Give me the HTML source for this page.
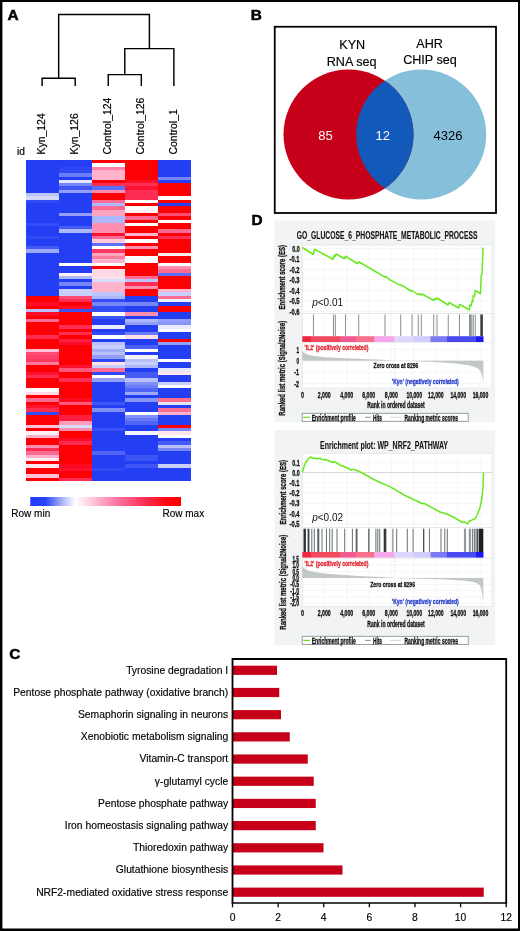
<!DOCTYPE html>
<html lang="en"><head><meta charset="utf-8"><title>Figure</title>
<style>html,body{margin:0;padding:0;background:#fff}body{width:520px;height:931px;overflow:hidden}svg{display:block}text{font-family:"Liberation Sans",Arial,Helvetica,sans-serif}</style>
</head><body>
<svg width="520" height="931" viewBox="0 0 520 931">
<rect x="0" y="0" width="520" height="931" fill="#fff"/>
<path d="M0,0 H520 V931 H0 Z M2.4,2 V928.5 H518 V2 Z" fill="#000" fill-rule="evenodd"/>
<text x="7.6" y="20.2" font-size="15.4" font-weight="bold" stroke="#000" stroke-width="0.5" fill="#000">A</text>
<text x="250.7" y="20.2" font-size="15.4" font-weight="bold" stroke="#000" stroke-width="0.5" fill="#000">B</text>
<text x="9.2" y="659.2" font-size="15.4" font-weight="bold" stroke="#000" stroke-width="0.5" fill="#000">C</text>
<text x="251.6" y="224.6" font-size="15.4" font-weight="bold" stroke="#000" stroke-width="0.5" fill="#000">D</text>
<g id="panelA">
<g fill="none" stroke="#000" stroke-width="1.45" transform="translate(0.4,0.4)">
<path d="M41.730000000000004,85.6 V77.8 H74.79 V85.6"/>
<path d="M107.85000000000001,85.6 V74.2 H140.91 V85.6"/>
<path d="M58.260000000000005,77.8 V14.2 H149 V48.2"/>
<path d="M124.38,74.2 V48.2 H173.47 V85.6"/>
</g>
<text transform="translate(45.23,154.5) rotate(-90)" font-size="10.45" fill="#000" stroke="#000" stroke-width="0.2">Kyn_124</text>
<text transform="translate(78.29,154.5) rotate(-90)" font-size="10.45" fill="#000" stroke="#000" stroke-width="0.2">Kyn_126</text>
<text transform="translate(111.35,154.5) rotate(-90)" font-size="10.45" fill="#000" stroke="#000" stroke-width="0.2">Control_124</text>
<text transform="translate(144.41,154.5) rotate(-90)" font-size="10.45" fill="#000" stroke="#000" stroke-width="0.2">Control_126</text>
<text transform="translate(177.47,154.5) rotate(-90)" font-size="10.45" fill="#000" stroke="#000" stroke-width="0.2">Control_1</text>
<text x="17" y="155" font-size="10.2" fill="#000" stroke="#000" stroke-width="0.2">id</text>
<g shape-rendering="crispEdges">
<rect x="25.70" y="160.00" width="33.11" height="33.14" fill="#243ef4"/>
<rect x="25.70" y="193.09" width="33.11" height="3.36" fill="#bdc5fc"/>
<rect x="25.70" y="196.40" width="33.11" height="3.36" fill="#d3d8fd"/>
<rect x="25.70" y="199.71" width="33.11" height="3.36" fill="#324af5"/>
<rect x="25.70" y="203.02" width="33.11" height="19.91" fill="#243ef4"/>
<rect x="25.70" y="222.88" width="33.11" height="3.36" fill="#344cf5"/>
<rect x="25.70" y="226.19" width="33.11" height="9.98" fill="#243ef4"/>
<rect x="25.70" y="236.11" width="33.11" height="3.36" fill="#324af5"/>
<rect x="25.70" y="239.42" width="33.11" height="6.67" fill="#243ef4"/>
<rect x="25.70" y="246.04" width="33.11" height="3.36" fill="#455bf6"/>
<rect x="25.70" y="249.35" width="33.11" height="3.36" fill="#9ca8fa"/>
<rect x="25.70" y="252.66" width="33.11" height="43.07" fill="#243ef4"/>
<rect x="25.70" y="295.68" width="33.11" height="6.67" fill="#fd0004"/>
<rect x="25.70" y="302.30" width="33.11" height="3.36" fill="#fd0e28"/>
<rect x="25.70" y="305.61" width="33.11" height="3.36" fill="#fd0004"/>
<rect x="25.70" y="308.92" width="33.11" height="3.36" fill="#b8c0fb"/>
<rect x="25.70" y="312.23" width="33.11" height="3.36" fill="#fd0e28"/>
<rect x="25.70" y="315.54" width="33.11" height="3.36" fill="#fd0004"/>
<rect x="25.70" y="318.85" width="33.11" height="3.36" fill="#fe6b92"/>
<rect x="25.70" y="322.15" width="33.11" height="13.29" fill="#fd0004"/>
<rect x="25.70" y="335.39" width="33.11" height="3.36" fill="#fe2d54"/>
<rect x="25.70" y="338.70" width="33.11" height="9.98" fill="#fd0004"/>
<rect x="25.70" y="348.63" width="33.11" height="3.36" fill="#ffc1d5"/>
<rect x="25.70" y="351.94" width="33.11" height="3.36" fill="#fe4b74"/>
<rect x="25.70" y="355.25" width="33.11" height="3.36" fill="#fe3f68"/>
<rect x="25.70" y="358.56" width="33.11" height="3.36" fill="#fe3961"/>
<rect x="25.70" y="361.87" width="33.11" height="3.36" fill="#fe799e"/>
<rect x="25.70" y="365.18" width="33.11" height="6.67" fill="#fd0004"/>
<rect x="25.70" y="371.79" width="33.11" height="3.36" fill="#fd1330"/>
<rect x="25.70" y="375.10" width="33.11" height="3.36" fill="#fe2d54"/>
<rect x="25.70" y="378.41" width="33.11" height="9.98" fill="#fd0004"/>
<rect x="25.70" y="388.34" width="33.11" height="3.36" fill="#ffffff"/>
<rect x="25.70" y="391.65" width="33.11" height="3.36" fill="#ffd8e5"/>
<rect x="25.70" y="394.96" width="33.11" height="3.36" fill="#fd0004"/>
<rect x="25.70" y="398.27" width="33.11" height="3.36" fill="#fe6b92"/>
<rect x="25.70" y="401.58" width="33.11" height="3.36" fill="#fd0004"/>
<rect x="25.70" y="404.89" width="33.11" height="3.36" fill="#fd1330"/>
<rect x="25.70" y="408.20" width="33.11" height="3.36" fill="#fe2d54"/>
<rect x="25.70" y="411.51" width="33.11" height="3.36" fill="#344cf5"/>
<rect x="25.70" y="414.81" width="33.11" height="9.98" fill="#fd0004"/>
<rect x="25.70" y="424.74" width="33.11" height="3.36" fill="#ffc1d5"/>
<rect x="25.70" y="428.05" width="33.11" height="3.36" fill="#fd0004"/>
<rect x="25.70" y="431.36" width="33.11" height="3.36" fill="#ffeff5"/>
<rect x="25.70" y="434.67" width="33.11" height="3.36" fill="#feb2cb"/>
<rect x="25.70" y="437.98" width="33.11" height="6.67" fill="#fd0004"/>
<rect x="25.70" y="444.60" width="33.11" height="3.36" fill="#fe8eaf"/>
<rect x="25.70" y="447.91" width="33.11" height="3.36" fill="#fe2d54"/>
<rect x="25.70" y="451.22" width="33.11" height="3.36" fill="#fe6b92"/>
<rect x="25.70" y="454.53" width="33.11" height="3.36" fill="#feb2cb"/>
<rect x="25.70" y="457.84" width="33.11" height="3.36" fill="#ffeff5"/>
<rect x="25.70" y="461.14" width="33.11" height="3.36" fill="#fd0004"/>
<rect x="25.70" y="464.45" width="33.11" height="3.36" fill="#ffe7f0"/>
<rect x="25.70" y="467.76" width="33.11" height="6.67" fill="#fd0004"/>
<rect x="25.70" y="474.38" width="33.11" height="3.36" fill="#ffc1d5"/>
<rect x="25.70" y="477.69" width="33.11" height="3.36" fill="#fd0004"/>
<rect x="58.76" y="160.00" width="33.11" height="6.67" fill="#243ef4"/>
<rect x="58.76" y="166.62" width="33.11" height="3.36" fill="#2f48f5"/>
<rect x="58.76" y="169.93" width="33.11" height="3.36" fill="#324af5"/>
<rect x="58.76" y="173.24" width="33.11" height="3.36" fill="#6b7df8"/>
<rect x="58.76" y="176.55" width="33.11" height="3.36" fill="#243ef4"/>
<rect x="58.76" y="179.86" width="33.11" height="3.36" fill="#e4e7fe"/>
<rect x="58.76" y="183.16" width="33.11" height="3.36" fill="#7686f8"/>
<rect x="58.76" y="186.47" width="33.11" height="3.36" fill="#3f56f5"/>
<rect x="58.76" y="189.78" width="33.11" height="3.36" fill="#929efa"/>
<rect x="58.76" y="193.09" width="33.11" height="19.91" fill="#243ef4"/>
<rect x="58.76" y="212.95" width="33.11" height="3.36" fill="#929efa"/>
<rect x="58.76" y="216.26" width="33.11" height="9.98" fill="#243ef4"/>
<rect x="58.76" y="226.19" width="33.11" height="3.36" fill="#455bf6"/>
<rect x="58.76" y="229.49" width="33.11" height="3.36" fill="#adb7fb"/>
<rect x="58.76" y="232.80" width="33.11" height="29.83" fill="#243ef4"/>
<rect x="58.76" y="262.59" width="33.11" height="3.36" fill="#ffffff"/>
<rect x="58.76" y="265.90" width="33.11" height="6.67" fill="#243ef4"/>
<rect x="58.76" y="272.52" width="33.11" height="3.36" fill="#ffeff5"/>
<rect x="58.76" y="275.82" width="33.11" height="3.36" fill="#adb7fb"/>
<rect x="58.76" y="279.13" width="33.11" height="3.36" fill="#243ef4"/>
<rect x="58.76" y="282.44" width="33.11" height="3.36" fill="#7686f8"/>
<rect x="58.76" y="285.75" width="33.11" height="3.36" fill="#243ef4"/>
<rect x="58.76" y="289.06" width="33.11" height="6.67" fill="#c8cffc"/>
<rect x="58.76" y="295.68" width="33.11" height="3.36" fill="#fe4b74"/>
<rect x="58.76" y="298.99" width="33.11" height="3.36" fill="#fe2d54"/>
<rect x="58.76" y="302.30" width="33.11" height="3.36" fill="#fd0004"/>
<rect x="58.76" y="305.61" width="33.11" height="3.36" fill="#fd0e28"/>
<rect x="58.76" y="308.92" width="33.11" height="3.36" fill="#3a51f5"/>
<rect x="58.76" y="312.23" width="33.11" height="13.29" fill="#fd0004"/>
<rect x="58.76" y="325.46" width="33.11" height="3.36" fill="#fe2d54"/>
<rect x="58.76" y="328.77" width="33.11" height="3.36" fill="#fd0004"/>
<rect x="58.76" y="332.08" width="33.11" height="3.36" fill="#fe2d54"/>
<rect x="58.76" y="335.39" width="33.11" height="3.36" fill="#fd0004"/>
<rect x="58.76" y="338.70" width="33.11" height="3.36" fill="#fd1d3f"/>
<rect x="58.76" y="342.01" width="33.11" height="3.36" fill="#fd0e28"/>
<rect x="58.76" y="345.32" width="33.11" height="19.91" fill="#fd0004"/>
<rect x="58.76" y="365.18" width="33.11" height="3.36" fill="#fd1330"/>
<rect x="58.76" y="368.48" width="33.11" height="3.36" fill="#fe5881"/>
<rect x="58.76" y="371.79" width="33.11" height="6.67" fill="#fd0004"/>
<rect x="58.76" y="378.41" width="33.11" height="3.36" fill="#fe2d54"/>
<rect x="58.76" y="381.72" width="33.11" height="16.60" fill="#fd0004"/>
<rect x="58.76" y="398.27" width="33.11" height="3.36" fill="#fd0a20"/>
<rect x="58.76" y="401.58" width="33.11" height="3.36" fill="#fe5881"/>
<rect x="58.76" y="404.89" width="33.11" height="9.98" fill="#fd0004"/>
<rect x="58.76" y="414.81" width="33.11" height="6.67" fill="#fd1d3f"/>
<rect x="58.76" y="421.43" width="33.11" height="3.36" fill="#fe9cba"/>
<rect x="58.76" y="424.74" width="33.11" height="3.36" fill="#d9ddfd"/>
<rect x="58.76" y="428.05" width="33.11" height="3.36" fill="#fe8eaf"/>
<rect x="58.76" y="431.36" width="33.11" height="6.67" fill="#fd0004"/>
<rect x="58.76" y="437.98" width="33.11" height="3.36" fill="#fd0e28"/>
<rect x="58.76" y="441.29" width="33.11" height="3.36" fill="#fd284d"/>
<rect x="58.76" y="444.60" width="33.11" height="19.91" fill="#fd0004"/>
<rect x="58.76" y="464.45" width="33.11" height="3.36" fill="#fd0a20"/>
<rect x="58.76" y="467.76" width="33.11" height="3.36" fill="#fd1330"/>
<rect x="58.76" y="471.07" width="33.11" height="6.67" fill="#fd0004"/>
<rect x="58.76" y="477.69" width="33.11" height="3.36" fill="#fe2d54"/>
<rect x="91.82" y="160.00" width="33.11" height="3.36" fill="#fd0004"/>
<rect x="91.82" y="163.31" width="33.11" height="3.36" fill="#ffffff"/>
<rect x="91.82" y="166.62" width="33.11" height="3.36" fill="#fe80a4"/>
<rect x="91.82" y="169.93" width="33.11" height="9.98" fill="#feb2cb"/>
<rect x="91.82" y="179.86" width="33.11" height="3.36" fill="#fd0004"/>
<rect x="91.82" y="183.16" width="33.11" height="3.36" fill="#fe2d54"/>
<rect x="91.82" y="186.47" width="33.11" height="3.36" fill="#5b6ef7"/>
<rect x="91.82" y="189.78" width="33.11" height="3.36" fill="#fe8eaf"/>
<rect x="91.82" y="193.09" width="33.11" height="6.67" fill="#fd0004"/>
<rect x="91.82" y="199.71" width="33.11" height="3.36" fill="#fe6b92"/>
<rect x="91.82" y="203.02" width="33.11" height="3.36" fill="#adb7fb"/>
<rect x="91.82" y="206.33" width="33.11" height="3.36" fill="#fe6b92"/>
<rect x="91.82" y="209.64" width="33.11" height="6.67" fill="#fea3c0"/>
<rect x="91.82" y="216.26" width="33.11" height="6.67" fill="#adb7fb"/>
<rect x="91.82" y="222.88" width="33.11" height="9.98" fill="#fe8eaf"/>
<rect x="91.82" y="232.80" width="33.11" height="3.36" fill="#fd1330"/>
<rect x="91.82" y="236.11" width="33.11" height="3.36" fill="#fe6b92"/>
<rect x="91.82" y="239.42" width="33.11" height="3.36" fill="#ffc8db"/>
<rect x="91.82" y="242.73" width="33.11" height="3.36" fill="#5b6ef7"/>
<rect x="91.82" y="246.04" width="33.11" height="3.36" fill="#ffffff"/>
<rect x="91.82" y="249.35" width="33.11" height="3.36" fill="#fe3961"/>
<rect x="91.82" y="252.66" width="33.11" height="3.36" fill="#fea3c0"/>
<rect x="91.82" y="255.97" width="33.11" height="3.36" fill="#fe799e"/>
<rect x="91.82" y="259.28" width="33.11" height="3.36" fill="#feb2cb"/>
<rect x="91.82" y="262.59" width="33.11" height="3.36" fill="#ffffff"/>
<rect x="91.82" y="265.90" width="33.11" height="3.36" fill="#fd0004"/>
<rect x="91.82" y="269.21" width="33.11" height="6.67" fill="#ffd8e5"/>
<rect x="91.82" y="275.82" width="33.11" height="3.36" fill="#ffe0ea"/>
<rect x="91.82" y="279.13" width="33.11" height="3.36" fill="#d9ddfd"/>
<rect x="91.82" y="282.44" width="33.11" height="9.98" fill="#feb2cb"/>
<rect x="91.82" y="292.37" width="33.11" height="3.36" fill="#bdc5fc"/>
<rect x="91.82" y="295.68" width="33.11" height="3.36" fill="#adb7fb"/>
<rect x="91.82" y="298.99" width="33.11" height="3.36" fill="#344cf5"/>
<rect x="91.82" y="302.30" width="33.11" height="3.36" fill="#7686f8"/>
<rect x="91.82" y="305.61" width="33.11" height="6.67" fill="#344cf5"/>
<rect x="91.82" y="312.23" width="33.11" height="3.36" fill="#ffffff"/>
<rect x="91.82" y="315.54" width="33.11" height="3.36" fill="#3f56f5"/>
<rect x="91.82" y="318.85" width="33.11" height="6.67" fill="#243ef4"/>
<rect x="91.82" y="325.46" width="33.11" height="3.36" fill="#e9ecfe"/>
<rect x="91.82" y="328.77" width="33.11" height="3.36" fill="#243ef4"/>
<rect x="91.82" y="332.08" width="33.11" height="3.36" fill="#344cf5"/>
<rect x="91.82" y="335.39" width="33.11" height="3.36" fill="#ffffff"/>
<rect x="91.82" y="338.70" width="33.11" height="3.36" fill="#243ef4"/>
<rect x="91.82" y="342.01" width="33.11" height="3.36" fill="#b8c0fb"/>
<rect x="91.82" y="345.32" width="33.11" height="3.36" fill="#c8cffc"/>
<rect x="91.82" y="348.63" width="33.11" height="3.36" fill="#a2adfa"/>
<rect x="91.82" y="351.94" width="33.11" height="3.36" fill="#b8c0fb"/>
<rect x="91.82" y="355.25" width="33.11" height="3.36" fill="#929efa"/>
<rect x="91.82" y="358.56" width="33.11" height="3.36" fill="#2f48f5"/>
<rect x="91.82" y="361.87" width="33.11" height="3.36" fill="#ffe0ea"/>
<rect x="91.82" y="365.18" width="33.11" height="3.36" fill="#c8cffc"/>
<rect x="91.82" y="368.48" width="33.11" height="3.36" fill="#fe6b92"/>
<rect x="91.82" y="371.79" width="33.11" height="3.36" fill="#2f48f5"/>
<rect x="91.82" y="375.10" width="33.11" height="3.36" fill="#ffffff"/>
<rect x="91.82" y="378.41" width="33.11" height="3.36" fill="#929efa"/>
<rect x="91.82" y="381.72" width="33.11" height="19.91" fill="#243ef4"/>
<rect x="91.82" y="401.58" width="33.11" height="3.36" fill="#3f56f5"/>
<rect x="91.82" y="404.89" width="33.11" height="3.36" fill="#243ef4"/>
<rect x="91.82" y="408.20" width="33.11" height="3.36" fill="#8190f9"/>
<rect x="91.82" y="411.51" width="33.11" height="16.60" fill="#243ef4"/>
<rect x="91.82" y="428.05" width="33.11" height="3.36" fill="#3a51f5"/>
<rect x="91.82" y="431.36" width="33.11" height="19.91" fill="#243ef4"/>
<rect x="91.82" y="451.22" width="33.11" height="3.36" fill="#5065f6"/>
<rect x="91.82" y="454.53" width="33.11" height="13.29" fill="#243ef4"/>
<rect x="91.82" y="467.76" width="33.11" height="3.36" fill="#324af5"/>
<rect x="91.82" y="471.07" width="33.11" height="9.98" fill="#243ef4"/>
<rect x="124.88" y="160.00" width="33.11" height="19.91" fill="#fd0004"/>
<rect x="124.88" y="179.86" width="33.11" height="3.36" fill="#fd0e28"/>
<rect x="124.88" y="183.16" width="33.11" height="3.36" fill="#fe2d54"/>
<rect x="124.88" y="186.47" width="33.11" height="3.36" fill="#fd1330"/>
<rect x="124.88" y="189.78" width="33.11" height="9.98" fill="#fe2d54"/>
<rect x="124.88" y="199.71" width="33.11" height="3.36" fill="#ffffff"/>
<rect x="124.88" y="203.02" width="33.11" height="3.36" fill="#fd0004"/>
<rect x="124.88" y="206.33" width="33.11" height="3.36" fill="#ffffff"/>
<rect x="124.88" y="209.64" width="33.11" height="3.36" fill="#ffeff5"/>
<rect x="124.88" y="212.95" width="33.11" height="3.36" fill="#fd0004"/>
<rect x="124.88" y="216.26" width="33.11" height="3.36" fill="#fe6b92"/>
<rect x="124.88" y="219.57" width="33.11" height="3.36" fill="#fd0004"/>
<rect x="124.88" y="222.88" width="33.11" height="3.36" fill="#ffffff"/>
<rect x="124.88" y="226.19" width="33.11" height="6.67" fill="#fd0004"/>
<rect x="124.88" y="232.80" width="33.11" height="3.36" fill="#feb2cb"/>
<rect x="124.88" y="236.11" width="33.11" height="3.36" fill="#fd0004"/>
<rect x="124.88" y="239.42" width="33.11" height="3.36" fill="#ffffff"/>
<rect x="124.88" y="242.73" width="33.11" height="3.36" fill="#fd0004"/>
<rect x="124.88" y="246.04" width="33.11" height="3.36" fill="#fe8eaf"/>
<rect x="124.88" y="249.35" width="33.11" height="6.67" fill="#fd0004"/>
<rect x="124.88" y="255.97" width="33.11" height="6.67" fill="#ffffff"/>
<rect x="124.88" y="262.59" width="33.11" height="13.29" fill="#fd0004"/>
<rect x="124.88" y="275.82" width="33.11" height="3.36" fill="#fe6b92"/>
<rect x="124.88" y="279.13" width="33.11" height="3.36" fill="#bdc5fc"/>
<rect x="124.88" y="282.44" width="33.11" height="3.36" fill="#fe2d54"/>
<rect x="124.88" y="285.75" width="33.11" height="3.36" fill="#fe8eaf"/>
<rect x="124.88" y="289.06" width="33.11" height="6.67" fill="#fd0004"/>
<rect x="124.88" y="295.68" width="33.11" height="6.67" fill="#243ef4"/>
<rect x="124.88" y="302.30" width="33.11" height="3.36" fill="#7686f8"/>
<rect x="124.88" y="305.61" width="33.11" height="6.67" fill="#243ef4"/>
<rect x="124.88" y="312.23" width="33.11" height="3.36" fill="#fe8eaf"/>
<rect x="124.88" y="315.54" width="33.11" height="3.36" fill="#243ef4"/>
<rect x="124.88" y="318.85" width="33.11" height="3.36" fill="#adb7fb"/>
<rect x="124.88" y="322.15" width="33.11" height="3.36" fill="#929efa"/>
<rect x="124.88" y="325.46" width="33.11" height="6.67" fill="#243ef4"/>
<rect x="124.88" y="332.08" width="33.11" height="3.36" fill="#6b7df8"/>
<rect x="124.88" y="335.39" width="33.11" height="3.36" fill="#ffe0ea"/>
<rect x="124.88" y="338.70" width="33.11" height="6.67" fill="#243ef4"/>
<rect x="124.88" y="345.32" width="33.11" height="3.36" fill="#4a60f6"/>
<rect x="124.88" y="348.63" width="33.11" height="3.36" fill="#ffffff"/>
<rect x="124.88" y="351.94" width="33.11" height="3.36" fill="#243ef4"/>
<rect x="124.88" y="355.25" width="33.11" height="3.36" fill="#f4f5fe"/>
<rect x="124.88" y="358.56" width="33.11" height="3.36" fill="#b8c0fb"/>
<rect x="124.88" y="361.87" width="33.11" height="3.36" fill="#c8cffc"/>
<rect x="124.88" y="365.18" width="33.11" height="3.36" fill="#adb7fb"/>
<rect x="124.88" y="368.48" width="33.11" height="3.36" fill="#243ef4"/>
<rect x="124.88" y="371.79" width="33.11" height="6.67" fill="#455bf6"/>
<rect x="124.88" y="378.41" width="33.11" height="3.36" fill="#b8c0fb"/>
<rect x="124.88" y="381.72" width="33.11" height="3.36" fill="#8190f9"/>
<rect x="124.88" y="385.03" width="33.11" height="3.36" fill="#6b7df8"/>
<rect x="124.88" y="388.34" width="33.11" height="3.36" fill="#5065f6"/>
<rect x="124.88" y="391.65" width="33.11" height="3.36" fill="#9ca8fa"/>
<rect x="124.88" y="394.96" width="33.11" height="3.36" fill="#243ef4"/>
<rect x="124.88" y="398.27" width="33.11" height="3.36" fill="#8795f9"/>
<rect x="124.88" y="401.58" width="33.11" height="9.98" fill="#243ef4"/>
<rect x="124.88" y="411.51" width="33.11" height="3.36" fill="#ffffff"/>
<rect x="124.88" y="414.81" width="33.11" height="3.36" fill="#8190f9"/>
<rect x="124.88" y="418.12" width="33.11" height="3.36" fill="#6678f7"/>
<rect x="124.88" y="421.43" width="33.11" height="3.36" fill="#5065f6"/>
<rect x="124.88" y="424.74" width="33.11" height="6.67" fill="#243ef4"/>
<rect x="124.88" y="431.36" width="33.11" height="3.36" fill="#f4f5fe"/>
<rect x="124.88" y="434.67" width="33.11" height="19.91" fill="#243ef4"/>
<rect x="124.88" y="454.53" width="33.11" height="6.67" fill="#3d54f5"/>
<rect x="124.88" y="461.14" width="33.11" height="3.36" fill="#243ef4"/>
<rect x="124.88" y="464.45" width="33.11" height="3.36" fill="#3d54f5"/>
<rect x="124.88" y="467.76" width="33.11" height="13.29" fill="#243ef4"/>
<rect x="157.94" y="160.00" width="33.11" height="16.60" fill="#243ef4"/>
<rect x="157.94" y="176.55" width="33.11" height="3.36" fill="#7686f8"/>
<rect x="157.94" y="179.86" width="33.11" height="3.36" fill="#243ef4"/>
<rect x="157.94" y="183.16" width="33.11" height="13.29" fill="#fd0004"/>
<rect x="157.94" y="196.40" width="33.11" height="3.36" fill="#ffffff"/>
<rect x="157.94" y="199.71" width="33.11" height="3.36" fill="#fd0004"/>
<rect x="157.94" y="203.02" width="33.11" height="3.36" fill="#243ef4"/>
<rect x="157.94" y="206.33" width="33.11" height="6.67" fill="#fd0004"/>
<rect x="157.94" y="212.95" width="33.11" height="3.36" fill="#fe4b74"/>
<rect x="157.94" y="216.26" width="33.11" height="3.36" fill="#fd0004"/>
<rect x="157.94" y="219.57" width="33.11" height="3.36" fill="#ffffff"/>
<rect x="157.94" y="222.88" width="33.11" height="6.67" fill="#fd0004"/>
<rect x="157.94" y="229.49" width="33.11" height="3.36" fill="#fe6b92"/>
<rect x="157.94" y="232.80" width="33.11" height="3.36" fill="#fd0004"/>
<rect x="157.94" y="236.11" width="33.11" height="3.36" fill="#fe2d54"/>
<rect x="157.94" y="239.42" width="33.11" height="13.29" fill="#fd0004"/>
<rect x="157.94" y="252.66" width="33.11" height="3.36" fill="#ffeff5"/>
<rect x="157.94" y="255.97" width="33.11" height="6.67" fill="#fd0004"/>
<rect x="157.94" y="262.59" width="33.11" height="3.36" fill="#ffffff"/>
<rect x="157.94" y="265.90" width="33.11" height="3.36" fill="#fe8eaf"/>
<rect x="157.94" y="269.21" width="33.11" height="3.36" fill="#fe6b92"/>
<rect x="157.94" y="272.52" width="33.11" height="3.36" fill="#5b6ef7"/>
<rect x="157.94" y="275.82" width="33.11" height="13.29" fill="#fd0004"/>
<rect x="157.94" y="289.06" width="33.11" height="3.36" fill="#feb2cb"/>
<rect x="157.94" y="292.37" width="33.11" height="3.36" fill="#c8cffc"/>
<rect x="157.94" y="295.68" width="33.11" height="3.36" fill="#fe6b92"/>
<rect x="157.94" y="298.99" width="33.11" height="3.36" fill="#eff1fe"/>
<rect x="157.94" y="302.30" width="33.11" height="3.36" fill="#243ef4"/>
<rect x="157.94" y="305.61" width="33.11" height="6.67" fill="#fd0004"/>
<rect x="157.94" y="312.23" width="33.11" height="6.67" fill="#243ef4"/>
<rect x="157.94" y="318.85" width="33.11" height="3.36" fill="#929efa"/>
<rect x="157.94" y="322.15" width="33.11" height="3.36" fill="#8795f9"/>
<rect x="157.94" y="325.46" width="33.11" height="3.36" fill="#e9ecfe"/>
<rect x="157.94" y="328.77" width="33.11" height="3.36" fill="#ffffff"/>
<rect x="157.94" y="332.08" width="33.11" height="6.67" fill="#243ef4"/>
<rect x="157.94" y="338.70" width="33.11" height="3.36" fill="#fd0004"/>
<rect x="157.94" y="342.01" width="33.11" height="3.36" fill="#929efa"/>
<rect x="157.94" y="345.32" width="33.11" height="13.29" fill="#243ef4"/>
<rect x="157.94" y="358.56" width="33.11" height="3.36" fill="#ffffff"/>
<rect x="157.94" y="361.87" width="33.11" height="6.67" fill="#243ef4"/>
<rect x="157.94" y="368.48" width="33.11" height="3.36" fill="#e4e7fe"/>
<rect x="157.94" y="371.79" width="33.11" height="3.36" fill="#ffe7f0"/>
<rect x="157.94" y="375.10" width="33.11" height="6.67" fill="#243ef4"/>
<rect x="157.94" y="381.72" width="33.11" height="3.36" fill="#c8cffc"/>
<rect x="157.94" y="385.03" width="33.11" height="3.36" fill="#ffffff"/>
<rect x="157.94" y="388.34" width="33.11" height="9.98" fill="#243ef4"/>
<rect x="157.94" y="398.27" width="33.11" height="3.36" fill="#fe6b92"/>
<rect x="157.94" y="401.58" width="33.11" height="3.36" fill="#e4e7fe"/>
<rect x="157.94" y="404.89" width="33.11" height="3.36" fill="#243ef4"/>
<rect x="157.94" y="408.20" width="33.11" height="3.36" fill="#fe6b92"/>
<rect x="157.94" y="411.51" width="33.11" height="3.36" fill="#feb2cb"/>
<rect x="157.94" y="414.81" width="33.11" height="9.98" fill="#243ef4"/>
<rect x="157.94" y="424.74" width="33.11" height="3.36" fill="#fd0004"/>
<rect x="157.94" y="428.05" width="33.11" height="3.36" fill="#7686f8"/>
<rect x="157.94" y="431.36" width="33.11" height="3.36" fill="#ffe7f0"/>
<rect x="157.94" y="434.67" width="33.11" height="3.36" fill="#ffffff"/>
<rect x="157.94" y="437.98" width="33.11" height="3.36" fill="#243ef4"/>
<rect x="157.94" y="441.29" width="33.11" height="3.36" fill="#455bf6"/>
<rect x="157.94" y="444.60" width="33.11" height="3.36" fill="#b8c0fb"/>
<rect x="157.94" y="447.91" width="33.11" height="3.36" fill="#7686f8"/>
<rect x="157.94" y="451.22" width="33.11" height="13.29" fill="#243ef4"/>
<rect x="157.94" y="464.45" width="33.11" height="3.36" fill="#c8cffc"/>
<rect x="157.94" y="467.76" width="33.11" height="13.29" fill="#243ef4"/>
</g>
<defs><linearGradient id="cb" x1="0" x2="1" y1="0" y2="0"><stop offset="0" stop-color="#2038ff"/><stop offset="0.10" stop-color="#2a44fc"/><stop offset="0.22" stop-color="#b4bcfc"/><stop offset="0.30" stop-color="#ffffff"/><stop offset="0.37" stop-color="#ffdcea"/><stop offset="0.55" stop-color="#ff80aa"/><stop offset="0.75" stop-color="#ff3058"/><stop offset="0.9" stop-color="#ff0814"/><stop offset="1" stop-color="#ff0000"/></linearGradient></defs>
<rect x="30.3" y="497" width="150.7" height="9" fill="url(#cb)"/>
<text x="11.3" y="516.6" font-size="10" fill="#000" stroke="#000" stroke-width="0.15">Row min</text>
<text x="204.2" y="516.6" text-anchor="end" font-size="10" fill="#000" stroke="#000" stroke-width="0.15">Row max</text>
</g>
<g id="panelB">
<rect x="274.75" y="26.75" width="221.25" height="186.25" fill="#fff" stroke="#000" stroke-width="1.8"/>
<circle cx="421.25" cy="134.5" r="65" fill="#86bfda"/>
<circle cx="348.5" cy="134.5" r="65" fill="#c60018"/>
<clipPath id="cpb"><circle cx="348.5" cy="134.5" r="65"/></clipPath>
<circle cx="421.25" cy="134.5" r="65" fill="#1259b9" clip-path="url(#cpb)"/>
<text x="352.2" y="49.3" font-size="12.6" text-anchor="middle" stroke="#000" stroke-width="0.15">KYN</text>
<text x="351.6" y="65.5" font-size="12.6" text-anchor="middle" stroke="#000" stroke-width="0.15">RNA seq</text>
<text x="429.6" y="48" font-size="12.6" text-anchor="middle" stroke="#000" stroke-width="0.15">AHR</text>
<text x="430" y="64.3" font-size="12.6" text-anchor="middle" stroke="#000" stroke-width="0.15">CHIP seq</text>
<text x="325.6" y="139.8" font-size="13" text-anchor="middle" fill="#fff">85</text>
<text x="382.7" y="139.8" font-size="13" text-anchor="middle" fill="#fff">12</text>
<text x="448" y="139.8" font-size="13" text-anchor="middle" fill="#000">4326</text>
</g>
<g id="panelD">
<rect x="274.4" y="220.5" width="220.8" height="201.5" fill="#f1f3f4"/>
<rect x="302.3" y="245" width="189.7" height="143" fill="#fff"/>
<g stroke="#edf0f1" stroke-width="0.6" fill="none">
<path d="M302.50,245 V388"/>
<path d="M324.72,245 V388"/>
<path d="M346.94,245 V388"/>
<path d="M369.16,245 V388"/>
<path d="M391.38,245 V388"/>
<path d="M413.60,245 V388"/>
<path d="M435.82,245 V388"/>
<path d="M458.04,245 V388"/>
<path d="M480.26,245 V388"/>
<path d="M302.3,248.5 H492.0"/>
<path d="M302.3,259.0 H492.0"/>
<path d="M302.3,269.5 H492.0"/>
<path d="M302.3,280.0 H492.0"/>
<path d="M302.3,290.5 H492.0"/>
<path d="M302.3,301.0 H492.0"/>
<path d="M302.3,311.5 H492.0"/>
<path d="M302.3,349.5 H492.0"/>
<path d="M302.3,360.75 H492.0"/>
<path d="M302.3,372.3 H492.0"/>
<path d="M302.3,383.75 H492.0"/>
<path d="M302.3,313.5 H492.0" stroke="#d4d8da"/>
<path d="M302.3,342.5 H492.0" stroke="#dde0e2"/>
<rect x="302.3" y="245" width="189.7" height="143" stroke="#dfe3e5"/>
</g>
<path d="M394.6,342 V388" stroke="#cfd3d6" stroke-width="0.6" stroke-dasharray="1.5,1.5"/>
<text x="296.80" y="239.00" font-size="10" fill="#111" font-weight="bold" stroke="#111" stroke-width="0.08" textLength="180.70" lengthAdjust="spacingAndGlyphs" >GO_GLUCOSE_6_PHOSPHATE_METABOLIC_PROCESS</text>
<text x="292.20" y="251.50" font-size="8.4" fill="#111" font-weight="bold" stroke="#111" stroke-width="0.3" textLength="7.40" lengthAdjust="spacingAndGlyphs" >0.0</text>
<text x="289.60" y="262.00" font-size="8.4" fill="#111" font-weight="bold" stroke="#111" stroke-width="0.3" textLength="10.00" lengthAdjust="spacingAndGlyphs" >-0.1</text>
<text x="289.60" y="272.50" font-size="8.4" fill="#111" font-weight="bold" stroke="#111" stroke-width="0.3" textLength="10.00" lengthAdjust="spacingAndGlyphs" >-0.2</text>
<text x="289.60" y="283.00" font-size="8.4" fill="#111" font-weight="bold" stroke="#111" stroke-width="0.3" textLength="10.00" lengthAdjust="spacingAndGlyphs" >-0.3</text>
<text x="289.60" y="293.50" font-size="8.4" fill="#111" font-weight="bold" stroke="#111" stroke-width="0.3" textLength="10.00" lengthAdjust="spacingAndGlyphs" >-0.4</text>
<text x="289.60" y="304.00" font-size="8.4" fill="#111" font-weight="bold" stroke="#111" stroke-width="0.3" textLength="10.00" lengthAdjust="spacingAndGlyphs" >-0.5</text>
<text x="289.60" y="314.50" font-size="8.4" fill="#111" font-weight="bold" stroke="#111" stroke-width="0.3" textLength="10.00" lengthAdjust="spacingAndGlyphs" >-0.6</text>
<path d="M302.50,247.50 L313.25,254.50 L314.50,249.25 L333.00,259.25 L334.00,255.50 L335.00,256.50 L336.00,254.00 L344.50,258.75 L345.50,256.25 L357.50,263.75 L358.75,261.75 L385.00,277.20 L385.60,276.40 L390.00,279.80 L400.75,285.60 L401.30,284.90 L411.25,291.25 L412.00,290.50 L418.00,294.50 L418.75,293.75 L421.25,295.00 L422.00,294.00 L433.75,300.50 L434.50,298.50 L436.25,299.50 L437.00,298.00 L448.00,305.00 L449.00,302.50 L458.75,308.00 L459.75,304.50 L469.50,310.00 L470.00,305.00 L471.25,305.75 L471.75,301.25 L472.75,302.00 L473.25,295.50 L474.50,296.50 L475.25,290.50 L480.50,293.50 L481.25,275.50 L482.00,274.50 L482.50,262.50 L483.00,247.50" fill="none" stroke="#6ae81e" stroke-width="1.5" stroke-linejoin="round"/>
<text x="312.2" y="306" font-size="10" fill="#111"><tspan font-style="italic">p</tspan>&lt;0.01</text>
<rect x="312.95" y="314.5" width="0.9" height="21.69999999999999" fill="#7c8488"/>
<rect x="332.95" y="314.5" width="0.9" height="21.69999999999999" fill="#7c8488"/>
<rect x="334.85" y="314.5" width="0.9" height="21.69999999999999" fill="#7c8488"/>
<rect x="345.05" y="314.5" width="0.9" height="21.69999999999999" fill="#7c8488"/>
<rect x="358.30" y="314.5" width="0.9" height="21.69999999999999" fill="#7c8488"/>
<rect x="384.55" y="314.5" width="0.9" height="21.69999999999999" fill="#7c8488"/>
<rect x="400.30" y="314.5" width="0.9" height="21.69999999999999" fill="#7c8488"/>
<rect x="411.55" y="314.5" width="0.9" height="21.69999999999999" fill="#7c8488"/>
<rect x="417.80" y="314.5" width="0.9" height="21.69999999999999" fill="#7c8488"/>
<rect x="420.80" y="314.5" width="0.9" height="21.69999999999999" fill="#7c8488"/>
<rect x="433.30" y="314.5" width="0.9" height="21.69999999999999" fill="#7c8488"/>
<rect x="436.55" y="314.5" width="0.9" height="21.69999999999999" fill="#7c8488"/>
<rect x="447.80" y="314.5" width="0.9" height="21.69999999999999" fill="#7c8488"/>
<rect x="459.05" y="314.5" width="0.9" height="21.69999999999999" fill="#7c8488"/>
<rect x="469.05" y="314.5" width="0.9" height="21.69999999999999" fill="#7c8488"/>
<rect x="470.15" y="314.5" width="0.9" height="21.69999999999999" fill="#7c8488"/>
<rect x="471.35" y="314.5" width="0.9" height="21.69999999999999" fill="#7c8488"/>
<rect x="472.80" y="314.5" width="0.9" height="21.69999999999999" fill="#7c8488"/>
<rect x="474.80" y="314.5" width="0.9" height="21.69999999999999" fill="#7c8488"/>
<rect x="480.30" y="314.5" width="2.6" height="21.69999999999999" fill="#3c4044"/>
<rect x="302.3" y="336.2" width="8.90" height="5.800000000000011" fill="#f0283e"/>
<rect x="311" y="336.2" width="29.20" height="5.800000000000011" fill="#f4485e"/>
<rect x="340" y="336.2" width="16.20" height="5.800000000000011" fill="#f45a92"/>
<rect x="356" y="336.2" width="18.70" height="5.800000000000011" fill="#f8708e"/>
<rect x="374.5" y="336.2" width="20.20" height="5.800000000000011" fill="#f6a6ea"/>
<rect x="394.5" y="336.2" width="19.45" height="5.800000000000011" fill="#dcd8fc"/>
<rect x="413.75" y="336.2" width="16.95" height="5.800000000000011" fill="#d0ccfc"/>
<rect x="430.5" y="336.2" width="16.70" height="5.800000000000011" fill="#7a7af4"/>
<rect x="447" y="336.2" width="29.20" height="5.800000000000011" fill="#4a4af0"/>
<rect x="476" y="336.2" width="7.50" height="5.800000000000011" fill="#1a1af2"/>
<path d="M302.30,360.75 L302.30,350.40 L303.50,352.20 L305.60,353.70 L308.00,354.80 L311.40,355.60 L318.00,356.50 L324.80,357.20 L335.00,357.80 L344.00,358.30 L363.30,359.10 L382.50,359.80 L394.60,360.75 L415.20,361.20 L434.50,362.00 L453.70,363.30 L469.00,365.20 L476.80,367.70 L480.60,370.60 L482.50,377.30 L483.30,384.00 L483.30,360.75 Z" fill="#c2c7c8"/>
<text x="296.40" y="352.50" font-size="8.4" fill="#111" font-weight="bold" stroke="#111" stroke-width="0.3" textLength="2.60" lengthAdjust="spacingAndGlyphs" >1</text>
<text x="296.40" y="363.75" font-size="8.4" fill="#111" font-weight="bold" stroke="#111" stroke-width="0.3" textLength="2.60" lengthAdjust="spacingAndGlyphs" >0</text>
<text x="294.20" y="375.30" font-size="8.4" fill="#111" font-weight="bold" stroke="#111" stroke-width="0.3" textLength="4.80" lengthAdjust="spacingAndGlyphs" >-1</text>
<text x="294.20" y="386.75" font-size="8.4" fill="#111" font-weight="bold" stroke="#111" stroke-width="0.3" textLength="4.80" lengthAdjust="spacingAndGlyphs" >-2</text>
<text x="304.60" y="350.20" font-size="7.8" fill="#e0202c" font-weight="bold" stroke="#e0202c" stroke-width="0.3" textLength="63.80" lengthAdjust="spacingAndGlyphs" >'IL2' (positively correlated)</text>
<text x="373.60" y="368.00" font-size="7.8" fill="#111" font-weight="bold" stroke="#111" stroke-width="0.3" textLength="44.80" lengthAdjust="spacingAndGlyphs" >Zero cross at 8296</text>
<text x="392.00" y="384.00" font-size="7.8" fill="#2038c8" font-weight="bold" stroke="#2038c8" stroke-width="0.3" textLength="66.80" lengthAdjust="spacingAndGlyphs" >'Kyn' (negatively correlated)</text>
<text x="301.00" y="397.60" font-size="8.2" fill="#111" font-weight="bold" stroke="#111" stroke-width="0.3" textLength="3.00" lengthAdjust="spacingAndGlyphs" >0</text>
<text x="317.75" y="397.60" font-size="8.2" fill="#111" font-weight="bold" stroke="#111" stroke-width="0.3" textLength="13.00" lengthAdjust="spacingAndGlyphs" >2,000</text>
<text x="340.25" y="397.60" font-size="8.2" fill="#111" font-weight="bold" stroke="#111" stroke-width="0.3" textLength="13.00" lengthAdjust="spacingAndGlyphs" >4,000</text>
<text x="362.25" y="397.60" font-size="8.2" fill="#111" font-weight="bold" stroke="#111" stroke-width="0.3" textLength="13.00" lengthAdjust="spacingAndGlyphs" >6,000</text>
<text x="384.80" y="397.60" font-size="8.2" fill="#111" font-weight="bold" stroke="#111" stroke-width="0.3" textLength="13.00" lengthAdjust="spacingAndGlyphs" >8,000</text>
<text x="406.45" y="397.60" font-size="8.2" fill="#111" font-weight="bold" stroke="#111" stroke-width="0.3" textLength="15.60" lengthAdjust="spacingAndGlyphs" >10,000</text>
<text x="428.10" y="397.60" font-size="8.2" fill="#111" font-weight="bold" stroke="#111" stroke-width="0.3" textLength="15.60" lengthAdjust="spacingAndGlyphs" >12,000</text>
<text x="450.45" y="397.60" font-size="8.2" fill="#111" font-weight="bold" stroke="#111" stroke-width="0.3" textLength="15.60" lengthAdjust="spacingAndGlyphs" >14,000</text>
<text x="472.70" y="397.60" font-size="8.2" fill="#111" font-weight="bold" stroke="#111" stroke-width="0.3" textLength="15.60" lengthAdjust="spacingAndGlyphs" >16,000</text>
<text x="367.25" y="407.50" font-size="8.2" fill="#111" font-weight="bold" stroke="#111" stroke-width="0.3" textLength="57.50" lengthAdjust="spacingAndGlyphs" >Rank in ordered dataset</text>
<rect x="302.2" y="413.3" width="166" height="8.0" fill="#fff" stroke="#7d8a8c" stroke-width="0.8"/>
<path d="M303.2,417.3 H310" stroke="#6ee023" stroke-width="1.2"/>
<text x="311.80" y="420.60" font-size="8.2" fill="#111" font-weight="bold" stroke="#111" stroke-width="0.3" textLength="44.00" lengthAdjust="spacingAndGlyphs" >Enrichment profile</text>
<path d="M365,417.3 H370.8" stroke="#6a8c90" stroke-width="0.9"/>
<text x="373.00" y="420.60" font-size="8.2" fill="#111" font-weight="bold" stroke="#111" stroke-width="0.3" textLength="9.00" lengthAdjust="spacingAndGlyphs" >Hits</text>
<path d="M390,417.3 H401" stroke="#d0d4d7" stroke-width="0.9"/>
<text x="404.50" y="420.60" font-size="8.2" fill="#111" font-weight="bold" stroke="#111" stroke-width="0.3" textLength="53.50" lengthAdjust="spacingAndGlyphs" >Ranking metric scores</text>
<text transform="translate(284.7,277.3) rotate(-90)" font-size="8.2" font-weight="bold" fill="#111" stroke="#111" stroke-width="0.3" text-anchor="middle" textLength="64.5" lengthAdjust="spacingAndGlyphs">Enrichment score (ES)</text>
<text transform="translate(284.7,368.2) rotate(-90)" font-size="8.2" font-weight="bold" fill="#111" stroke="#111" stroke-width="0.3" text-anchor="middle" textLength="95" lengthAdjust="spacingAndGlyphs">Ranked list metric (Signal2Noise)</text>
<rect x="274.4" y="430" width="220.8" height="215" fill="#f1f3f4"/>
<rect x="302.3" y="453.6" width="189.7" height="152.69999999999993" fill="#fff"/>
<g stroke="#edf0f1" stroke-width="0.6" fill="none">
<path d="M302.50,453.6 V606.3"/>
<path d="M324.72,453.6 V606.3"/>
<path d="M346.94,453.6 V606.3"/>
<path d="M369.16,453.6 V606.3"/>
<path d="M391.38,453.6 V606.3"/>
<path d="M413.60,453.6 V606.3"/>
<path d="M435.82,453.6 V606.3"/>
<path d="M458.04,453.6 V606.3"/>
<path d="M480.26,453.6 V606.3"/>
<path d="M302.3,462.8 H492.0"/>
<path d="M302.3,472.5 H492.0"/>
<path d="M302.3,482.8 H492.0"/>
<path d="M302.3,493.0 H492.0"/>
<path d="M302.3,503.3 H492.0"/>
<path d="M302.3,513.5 H492.0"/>
<path d="M302.3,523.8 H492.0"/>
<path d="M302.3,558.6 H492.0"/>
<path d="M302.3,565 H492.0"/>
<path d="M302.3,571.5 H492.0"/>
<path d="M302.3,578 H492.0"/>
<path d="M302.3,584.4 H492.0"/>
<path d="M302.3,590.8 H492.0"/>
<path d="M302.3,597.2 H492.0"/>
<path d="M302.3,603.4 H492.0"/>
<path d="M302.3,527.5 H492.0" stroke="#d4d8da"/>
<path d="M302.3,558.1 H492.0" stroke="#dde0e2"/>
<rect x="302.3" y="453.6" width="189.7" height="152.69999999999993" stroke="#dfe3e5"/>
</g>
<path d="M302.3,472.5 H492.0" stroke="#cdd1d4" stroke-width="0.8"/>
<path d="M394.6,557.6 V606.3" stroke="#cfd3d6" stroke-width="0.6" stroke-dasharray="1.5,1.5"/>
<text x="320.00" y="448.80" font-size="10" fill="#111" font-weight="bold" stroke="#111" stroke-width="0.08" textLength="128.00" lengthAdjust="spacingAndGlyphs" >Enrichment plot: WP_NRF2_PATHWAY</text>
<text x="292.20" y="465.80" font-size="8.4" fill="#111" font-weight="bold" stroke="#111" stroke-width="0.3" textLength="7.40" lengthAdjust="spacingAndGlyphs" >0.1</text>
<text x="292.20" y="475.50" font-size="8.4" fill="#111" font-weight="bold" stroke="#111" stroke-width="0.3" textLength="7.40" lengthAdjust="spacingAndGlyphs" >0.0</text>
<text x="289.60" y="485.80" font-size="8.4" fill="#111" font-weight="bold" stroke="#111" stroke-width="0.3" textLength="10.00" lengthAdjust="spacingAndGlyphs" >-0.1</text>
<text x="289.60" y="496.00" font-size="8.4" fill="#111" font-weight="bold" stroke="#111" stroke-width="0.3" textLength="10.00" lengthAdjust="spacingAndGlyphs" >-0.2</text>
<text x="289.60" y="506.30" font-size="8.4" fill="#111" font-weight="bold" stroke="#111" stroke-width="0.3" textLength="10.00" lengthAdjust="spacingAndGlyphs" >-0.3</text>
<text x="289.60" y="516.50" font-size="8.4" fill="#111" font-weight="bold" stroke="#111" stroke-width="0.3" textLength="10.00" lengthAdjust="spacingAndGlyphs" >-0.4</text>
<text x="289.60" y="526.80" font-size="8.4" fill="#111" font-weight="bold" stroke="#111" stroke-width="0.3" textLength="10.00" lengthAdjust="spacingAndGlyphs" >-0.5</text>
<path d="M302.50,472.50 L303.50,468.50 L304.50,465.00 L306.00,462.00 L307.50,460.00 L309.00,458.20 L310.75,457.00 L312.00,457.80 L313.75,458.25 L315.50,458.00 L317.00,459.00 L318.50,458.40 L320.00,458.25 L322.00,459.40 L323.75,460.00 L325.00,459.50 L326.25,459.75 L329.00,461.00 L332.50,462.50 L333.80,461.80 L335.00,462.00 L340.00,465.00 L346.25,467.50 L351.25,470.00 L353.00,469.40 L354.50,469.50 L358.75,471.25 L365.00,474.50 L372.50,478.75 L380.00,482.50 L390.00,486.60 L405.00,495.50 L422.50,503.75 L423.75,503.25 L440.00,512.00 L447.50,514.25 L455.00,518.00 L462.50,522.50 L465.00,522.00 L466.50,523.30 L468.00,523.75 L469.50,520.50 L471.00,520.80 L472.50,519.50 L474.00,519.40 L476.25,517.00 L478.00,512.50 L480.00,507.50 L481.20,502.00 L482.00,497.50 L483.00,487.50 L483.50,472.50" fill="none" stroke="#6ae81e" stroke-width="1.5" stroke-linejoin="round"/>
<text x="312.2" y="520.6" font-size="10" fill="#111"><tspan font-style="italic">p</tspan>&lt;0.02</text>
<rect x="303.50" y="528.7" width="2.4" height="23.299999999999955" fill="#2c3034"/>
<rect x="307.60" y="528.7" width="1.8" height="23.299999999999955" fill="#3a3e42"/>
<rect x="311.30" y="528.7" width="1.0" height="23.299999999999955" fill="#687072"/>
<rect x="313.80" y="528.7" width="1.0" height="23.299999999999955" fill="#687072"/>
<rect x="317.30" y="528.7" width="2.0" height="23.299999999999955" fill="#5a6064"/>
<rect x="321.50" y="528.7" width="1.0" height="23.299999999999955" fill="#687072"/>
<rect x="326.00" y="528.7" width="1.0" height="23.299999999999955" fill="#687072"/>
<rect x="329.20" y="528.7" width="1.0" height="23.299999999999955" fill="#687072"/>
<rect x="331.70" y="528.7" width="1.0" height="23.299999999999955" fill="#687072"/>
<rect x="336.50" y="528.7" width="1.0" height="23.299999999999955" fill="#687072"/>
<rect x="344.20" y="528.7" width="1.0" height="23.299999999999955" fill="#687072"/>
<rect x="351.90" y="528.7" width="1.0" height="23.299999999999955" fill="#687072"/>
<rect x="355.70" y="528.7" width="1.8" height="23.299999999999955" fill="#5a6064"/>
<rect x="368.10" y="528.7" width="1.4" height="23.299999999999955" fill="#60686a"/>
<rect x="375.40" y="528.7" width="1.0" height="23.299999999999955" fill="#687072"/>
<rect x="377.30" y="528.7" width="1.0" height="23.299999999999955" fill="#687072"/>
<rect x="379.20" y="528.7" width="1.0" height="23.299999999999955" fill="#687072"/>
<rect x="383.70" y="528.7" width="2.6" height="23.299999999999955" fill="#34383c"/>
<rect x="392.40" y="528.7" width="1.0" height="23.299999999999955" fill="#687072"/>
<rect x="396.20" y="528.7" width="1.0" height="23.299999999999955" fill="#687072"/>
<rect x="406.80" y="528.7" width="1.0" height="23.299999999999955" fill="#687072"/>
<rect x="412.60" y="528.7" width="1.0" height="23.299999999999955" fill="#687072"/>
<rect x="423.10" y="528.7" width="1.2" height="23.299999999999955" fill="#3a3e42"/>
<rect x="428.90" y="528.7" width="1.0" height="23.299999999999955" fill="#687072"/>
<rect x="440.50" y="528.7" width="1.0" height="23.299999999999955" fill="#687072"/>
<rect x="444.30" y="528.7" width="1.0" height="23.299999999999955" fill="#687072"/>
<rect x="446.80" y="528.7" width="1.0" height="23.299999999999955" fill="#687072"/>
<rect x="463.90" y="528.7" width="2.2" height="23.299999999999955" fill="#909a9c"/>
<rect x="468.80" y="528.7" width="2.0" height="23.299999999999955" fill="#8a9294"/>
<rect x="471.90" y="528.7" width="1.4" height="23.299999999999955" fill="#7a8284"/>
<rect x="474.10" y="528.7" width="1.4" height="23.299999999999955" fill="#6a7072"/>
<rect x="476.40" y="528.7" width="1.8" height="23.299999999999955" fill="#50565a"/>
<rect x="478.70" y="528.7" width="4.6" height="23.299999999999955" fill="#1e2022"/>
<rect x="302.3" y="552" width="8.90" height="5.600000000000023" fill="#f0283e"/>
<rect x="311" y="552" width="29.20" height="5.600000000000023" fill="#f4485e"/>
<rect x="340" y="552" width="16.20" height="5.600000000000023" fill="#f45a92"/>
<rect x="356" y="552" width="18.70" height="5.600000000000023" fill="#f8708e"/>
<rect x="374.5" y="552" width="20.20" height="5.600000000000023" fill="#f6a6ea"/>
<rect x="394.5" y="552" width="19.45" height="5.600000000000023" fill="#dcd8fc"/>
<rect x="413.75" y="552" width="16.95" height="5.600000000000023" fill="#d0ccfc"/>
<rect x="430.5" y="552" width="16.70" height="5.600000000000023" fill="#7a7af4"/>
<rect x="447" y="552" width="29.20" height="5.600000000000023" fill="#4a4af0"/>
<rect x="476" y="552" width="7.50" height="5.600000000000023" fill="#1a1af2"/>
<path d="M302.30,578.00 L302.30,565.80 L303.50,567.60 L305.60,569.20 L308.00,570.50 L311.40,571.50 L318.00,572.60 L324.80,573.50 L335.00,574.30 L344.00,575.00 L363.30,576.20 L382.50,576.90 L394.60,578.00 L420.00,578.70 L440.00,579.30 L455.00,580.00 L465.00,580.80 L472.00,581.80 L477.50,583.20 L480.00,585.50 L481.50,590.00 L482.60,596.00 L483.30,602.50 L483.30,578.00 Z" fill="#c2c7c8"/>
<text x="292.40" y="561.60" font-size="8.4" fill="#111" font-weight="bold" stroke="#111" stroke-width="0.3" textLength="6.60" lengthAdjust="spacingAndGlyphs" >1.5</text>
<text x="292.40" y="568.00" font-size="8.4" fill="#111" font-weight="bold" stroke="#111" stroke-width="0.3" textLength="6.60" lengthAdjust="spacingAndGlyphs" >1.0</text>
<text x="292.40" y="574.50" font-size="8.4" fill="#111" font-weight="bold" stroke="#111" stroke-width="0.3" textLength="6.60" lengthAdjust="spacingAndGlyphs" >0.5</text>
<text x="292.40" y="581.00" font-size="8.4" fill="#111" font-weight="bold" stroke="#111" stroke-width="0.3" textLength="6.60" lengthAdjust="spacingAndGlyphs" >0.0</text>
<text x="290.20" y="587.40" font-size="8.4" fill="#111" font-weight="bold" stroke="#111" stroke-width="0.3" textLength="8.80" lengthAdjust="spacingAndGlyphs" >-0.5</text>
<text x="290.20" y="593.80" font-size="8.4" fill="#111" font-weight="bold" stroke="#111" stroke-width="0.3" textLength="8.80" lengthAdjust="spacingAndGlyphs" >-1.0</text>
<text x="290.20" y="600.20" font-size="8.4" fill="#111" font-weight="bold" stroke="#111" stroke-width="0.3" textLength="8.80" lengthAdjust="spacingAndGlyphs" >-1.5</text>
<text x="290.20" y="606.40" font-size="8.4" fill="#111" font-weight="bold" stroke="#111" stroke-width="0.3" textLength="8.80" lengthAdjust="spacingAndGlyphs" >-2.0</text>
<text x="304.60" y="565.80" font-size="7.8" fill="#e0202c" font-weight="bold" stroke="#e0202c" stroke-width="0.3" textLength="63.80" lengthAdjust="spacingAndGlyphs" >'IL2' (positively correlated)</text>
<text x="370.20" y="586.80" font-size="7.8" fill="#111" font-weight="bold" stroke="#111" stroke-width="0.3" textLength="44.80" lengthAdjust="spacingAndGlyphs" >Zero cross at 8296</text>
<text x="392.00" y="603.80" font-size="7.8" fill="#2038c8" font-weight="bold" stroke="#2038c8" stroke-width="0.3" textLength="66.80" lengthAdjust="spacingAndGlyphs" >'Kyn' (negatively correlated)</text>
<text x="301.00" y="616.10" font-size="8.2" fill="#111" font-weight="bold" stroke="#111" stroke-width="0.3" textLength="3.00" lengthAdjust="spacingAndGlyphs" >0</text>
<text x="317.75" y="616.10" font-size="8.2" fill="#111" font-weight="bold" stroke="#111" stroke-width="0.3" textLength="13.00" lengthAdjust="spacingAndGlyphs" >2,000</text>
<text x="340.25" y="616.10" font-size="8.2" fill="#111" font-weight="bold" stroke="#111" stroke-width="0.3" textLength="13.00" lengthAdjust="spacingAndGlyphs" >4,000</text>
<text x="362.25" y="616.10" font-size="8.2" fill="#111" font-weight="bold" stroke="#111" stroke-width="0.3" textLength="13.00" lengthAdjust="spacingAndGlyphs" >6,000</text>
<text x="384.80" y="616.10" font-size="8.2" fill="#111" font-weight="bold" stroke="#111" stroke-width="0.3" textLength="13.00" lengthAdjust="spacingAndGlyphs" >8,000</text>
<text x="406.45" y="616.10" font-size="8.2" fill="#111" font-weight="bold" stroke="#111" stroke-width="0.3" textLength="15.60" lengthAdjust="spacingAndGlyphs" >10,000</text>
<text x="428.10" y="616.10" font-size="8.2" fill="#111" font-weight="bold" stroke="#111" stroke-width="0.3" textLength="15.60" lengthAdjust="spacingAndGlyphs" >12,000</text>
<text x="450.45" y="616.10" font-size="8.2" fill="#111" font-weight="bold" stroke="#111" stroke-width="0.3" textLength="15.60" lengthAdjust="spacingAndGlyphs" >14,000</text>
<text x="472.70" y="616.10" font-size="8.2" fill="#111" font-weight="bold" stroke="#111" stroke-width="0.3" textLength="15.60" lengthAdjust="spacingAndGlyphs" >16,000</text>
<text x="367.25" y="626.80" font-size="8.2" fill="#111" font-weight="bold" stroke="#111" stroke-width="0.3" textLength="57.50" lengthAdjust="spacingAndGlyphs" >Rank in ordered dataset</text>
<rect x="302.2" y="636.3" width="166" height="8.200000000000045" fill="#fff" stroke="#7d8a8c" stroke-width="0.8"/>
<path d="M303.2,640.4 H310" stroke="#6ee023" stroke-width="1.2"/>
<text x="311.80" y="643.70" font-size="8.2" fill="#111" font-weight="bold" stroke="#111" stroke-width="0.3" textLength="44.00" lengthAdjust="spacingAndGlyphs" >Enrichment profile</text>
<path d="M365,640.4 H370.8" stroke="#6a8c90" stroke-width="0.9"/>
<text x="373.00" y="643.70" font-size="8.2" fill="#111" font-weight="bold" stroke="#111" stroke-width="0.3" textLength="9.00" lengthAdjust="spacingAndGlyphs" >Hits</text>
<path d="M390,640.4 H401" stroke="#d0d4d7" stroke-width="0.9"/>
<text x="404.50" y="643.70" font-size="8.2" fill="#111" font-weight="bold" stroke="#111" stroke-width="0.3" textLength="53.50" lengthAdjust="spacingAndGlyphs" >Ranking metric scores</text>
<text transform="translate(285.8,492.3) rotate(-90)" font-size="8.2" font-weight="bold" fill="#111" stroke="#111" stroke-width="0.3" text-anchor="middle" textLength="64.5" lengthAdjust="spacingAndGlyphs">Enrichment score (ES)</text>
<text transform="translate(285.8,582.2) rotate(-90)" font-size="8.2" font-weight="bold" fill="#111" stroke="#111" stroke-width="0.3" text-anchor="middle" textLength="95" lengthAdjust="spacingAndGlyphs">Ranked list metric (Signal2Noise)</text>
</g>
<g id="panelC">
<rect x="232.5" y="665.70" width="44.50" height="9.2" fill="#c60018"/>
<text x="228.2" y="673.70" font-size="10.32" text-anchor="end" fill="#000" stroke="#000" stroke-width="0.15">Tyrosine degradation I</text>
<rect x="232.5" y="687.89" width="46.75" height="9.2" fill="#c60018"/>
<text x="228.2" y="695.89" font-size="10.32" text-anchor="end" fill="#000" stroke="#000" stroke-width="0.15">Pentose phosphate pathway (oxidative branch)</text>
<rect x="232.5" y="710.08" width="48.50" height="9.2" fill="#c60018"/>
<text x="228.2" y="718.08" font-size="10.32" text-anchor="end" fill="#000" stroke="#000" stroke-width="0.15">Semaphorin signaling in neurons</text>
<rect x="232.5" y="732.27" width="57.25" height="9.2" fill="#c60018"/>
<text x="228.2" y="740.27" font-size="10.32" text-anchor="end" fill="#000" stroke="#000" stroke-width="0.15">Xenobiotic metabolism signaling</text>
<rect x="232.5" y="754.46" width="75.25" height="9.2" fill="#c60018"/>
<text x="228.2" y="762.46" font-size="10.32" text-anchor="end" fill="#000" stroke="#000" stroke-width="0.15">Vitamin-C transport</text>
<rect x="232.5" y="776.65" width="81.25" height="9.2" fill="#c60018"/>
<text x="228.2" y="784.65" font-size="10.32" text-anchor="end" fill="#000" stroke="#000" stroke-width="0.15">γ-glutamyl cycle</text>
<rect x="232.5" y="798.84" width="83.25" height="9.2" fill="#c60018"/>
<text x="228.2" y="806.84" font-size="10.32" text-anchor="end" fill="#000" stroke="#000" stroke-width="0.15">Pentose phosphate pathway</text>
<rect x="232.5" y="821.03" width="83.25" height="9.2" fill="#c60018"/>
<text x="228.2" y="829.03" font-size="10.32" text-anchor="end" fill="#000" stroke="#000" stroke-width="0.15">Iron homeostasis signaling pathway</text>
<rect x="232.5" y="843.22" width="91.00" height="9.2" fill="#c60018"/>
<text x="228.2" y="851.22" font-size="10.32" text-anchor="end" fill="#000" stroke="#000" stroke-width="0.15">Thioredoxin pathway</text>
<rect x="232.5" y="865.41" width="110.00" height="9.2" fill="#c60018"/>
<text x="228.2" y="873.41" font-size="10.32" text-anchor="end" fill="#000" stroke="#000" stroke-width="0.15">Glutathione biosynthesis</text>
<rect x="232.5" y="887.60" width="251.25" height="9.2" fill="#c60018"/>
<text x="228.2" y="895.60" font-size="10.32" text-anchor="end" fill="#000" stroke="#000" stroke-width="0.15">NRF2-mediated oxidative stress response</text>
<path d="M232.5,903 V659 H506.2 V903" fill="none" stroke="#000" stroke-width="1.8"/>
<path d="M231.6,903 H507.09999999999997" fill="none" stroke="#000" stroke-width="1.6"/>
<path d="M232.50,903 V907.3" stroke="#000" stroke-width="1.3"/>
<text x="232.50" y="920.9" font-size="10.3" text-anchor="middle" fill="#000" stroke="#000" stroke-width="0.15">0</text>
<path d="M278.12,903 V907.3" stroke="#000" stroke-width="1.3"/>
<text x="278.12" y="920.9" font-size="10.3" text-anchor="middle" fill="#000" stroke="#000" stroke-width="0.15">2</text>
<path d="M323.73,903 V907.3" stroke="#000" stroke-width="1.3"/>
<text x="323.73" y="920.9" font-size="10.3" text-anchor="middle" fill="#000" stroke="#000" stroke-width="0.15">4</text>
<path d="M369.35,903 V907.3" stroke="#000" stroke-width="1.3"/>
<text x="369.35" y="920.9" font-size="10.3" text-anchor="middle" fill="#000" stroke="#000" stroke-width="0.15">6</text>
<path d="M414.97,903 V907.3" stroke="#000" stroke-width="1.3"/>
<text x="414.97" y="920.9" font-size="10.3" text-anchor="middle" fill="#000" stroke="#000" stroke-width="0.15">8</text>
<path d="M460.58,903 V907.3" stroke="#000" stroke-width="1.3"/>
<text x="460.58" y="920.9" font-size="10.3" text-anchor="middle" fill="#000" stroke="#000" stroke-width="0.15">10</text>
<path d="M506.20,903 V907.3" stroke="#000" stroke-width="1.3"/>
<text x="506.20" y="920.9" font-size="10.3" text-anchor="middle" fill="#000" stroke="#000" stroke-width="0.15">12</text>
</g>
</svg></body></html>
